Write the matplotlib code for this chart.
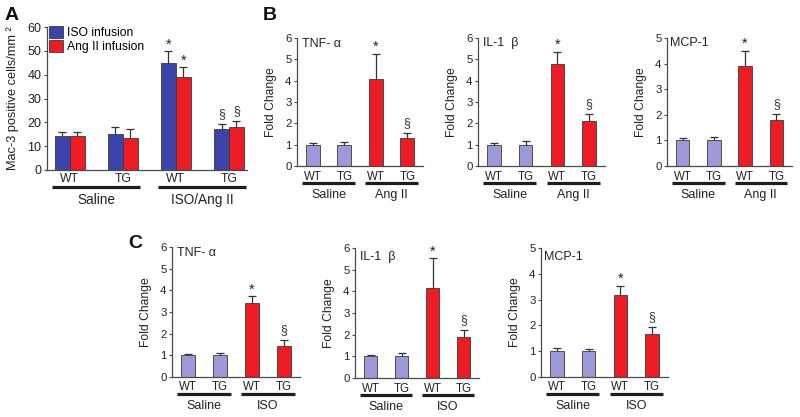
import matplotlib
matplotlib.use('Agg')
import matplotlib.pyplot as plt
import matplotlib.transforms as mtransforms
from matplotlib.patches import Patch
import numpy as np

plt.rcParams['font.family'] = ['Liberation Sans', 'DejaVu Sans']

# ---------------- data ----------------
genotypes = ['WT', 'TG', 'WT', 'TG']

# Panel A
a_groups = ['Saline', 'ISO/Ang II']
a_legend = ['ISO infusion', 'Ang II infusion']
a_iso = [14.3, 15.1, 45.0, 17.1]
a_iso_err = [1.7, 3.1, 4.8, 2.1]
a_ang = [14.3, 13.3, 38.9, 18.2]
a_ang_err = [1.8, 3.7, 4.2, 2.2]
a_iso_marks = ['', '', '*', '§']
a_ang_marks = ['', '', '*', '§']
a_yticks = [0, 10, 20, 30, 40, 50, 60]

# Panel B (Ang II)
b_groups = ['Saline', 'Ang II']
b_tnf = [1.0, 1.0, 4.1, 1.3]
b_tnf_err = [0.07, 0.12, 1.15, 0.25]
b_il = [1.0, 1.0, 4.8, 2.12]
b_il_err = [0.07, 0.15, 0.55, 0.3]
b_mcp = [1.0, 1.0, 3.9, 1.8]
b_mcp_err = [0.1, 0.15, 0.6, 0.22]

# Panel C (ISO)
c_groups = ['Saline', 'ISO']
c_tnf = [1.0, 1.0, 3.4, 1.41]
c_tnf_err = [0.08, 0.12, 0.33, 0.3]
c_il = [1.0, 1.0, 4.14, 1.87]
c_il_err = [0.08, 0.16, 1.39, 0.34]
c_mcp = [1.0, 1.0, 3.19, 1.67]
c_mcp_err = [0.12, 0.1, 0.35, 0.28]

bc_marks = ['', '', '*', '§']
titles = ['TNF- α', 'IL-1  β', 'MCP-1']

BLUE = '#3a44aa'
RED = '#ec1c24'
LAV = '#9d98d8'
EDGE = '#3a3a3a'
SPINE = '#4a4a4a'

W, H = 800, 417
fig = plt.figure(figsize=(8, 4.17), dpi=100)


def add_ax(left, right, top, bottom):
    ax = fig.add_axes([left / W, 1 - bottom / H, (right - left) / W, (bottom - top) / H])
    return ax, (right - left), (bottom - top)


def style(ax, tick_fs):
    for s in ['top', 'right']:
        ax.spines[s].set_visible(False)
    for s in ['left', 'bottom']:
        ax.spines[s].set_color(SPINE)
        ax.spines[s].set_linewidth(0.9)
    ax.tick_params(axis='y', length=2.5, width=0.8, pad=1.5, labelsize=tick_fs, colors='#222222')
    ax.tick_params(axis='y', color=SPINE)
    ax.set_xticks([])


def under_labels(ax, hpx, xs, labels, groups, wt_px, line_px, grp_px, fs_small, fs_grp, half=0.34):
    tr = mtransforms.blended_transform_factory(ax.transData, ax.transAxes)
    for x, lab in zip(xs, labels):
        ax.text(x, -wt_px / hpx, lab, transform=tr, ha='center', va='center',
                fontsize=fs_small, color='#222222', clip_on=False)
    for gi, g in enumerate(groups):
        x0 = xs[2 * gi] - half
        x1 = xs[2 * gi + 1] + half
        ax.plot([x0, x1], [-line_px / hpx] * 2, transform=tr, color='#1e1e1e',
                lw=2.3, solid_capstyle='butt', clip_on=False)
        ax.text((xs[2 * gi] + xs[2 * gi + 1]) / 2, -grp_px / hpx, g, transform=tr,
                ha='center', va='center', fontsize=fs_grp, color='#222222', clip_on=False)


def marks_on(ax, xs, tops, marks):
    for x, t, m in zip(xs, tops, marks):
        if not m:
            continue
        if m == '*':
            ax.annotate(m, (x, t), xytext=(0, 2.0), textcoords='offset points',
                        ha='center', va='baseline', fontsize=10.5, color='#222222')
        else:
            ax.annotate(m, (x, t), xytext=(0, 5.0), textcoords='offset points',
                        ha='center', va='baseline', fontsize=9, color='#333333')


# ---------------- Panel A ----------------
axA, wA, hA = add_ax(47, 247, 27, 170)
style(axA, 9)
xA = np.arange(len(genotypes))
bw = 0.28
axA.errorbar(xA - bw / 2, a_iso, yerr=a_iso_err, fmt='none', ecolor='#333333',
             elinewidth=0.9, capsize=2.8, capthick=0.9, zorder=1)
axA.errorbar(xA + bw / 2, a_ang, yerr=a_ang_err, fmt='none', ecolor='#333333',
             elinewidth=0.9, capsize=2.8, capthick=0.9, zorder=1)
axA.bar(xA - bw / 2, a_iso, width=bw, color=BLUE, edgecolor=EDGE, linewidth=0.6, zorder=2)
axA.bar(xA + bw / 2, a_ang, width=bw, color=RED, edgecolor=EDGE, linewidth=0.6, zorder=2)
axA.set_xlim(-0.43, 3.34)
axA.set_ylim(0, 60)
axA.set_yticks(a_yticks)
marks_on(axA, xA - bw / 2, np.array(a_iso) + np.array(a_iso_err), a_iso_marks)
marks_on(axA, xA + bw / 2, np.array(a_ang) + np.array(a_ang_err), a_ang_marks)
axA.set_ylabel('Mac-3 positive cells/mm ²', fontsize=9.2, va='center', color='#222222')
axA.yaxis.set_label_coords(-34 / wA, 0.5)
under_labels(axA, hA, xA, genotypes, a_groups, 9, 17, 30, 8.8, 9.8, half=0.33)
handles = [Patch(facecolor=BLUE, edgecolor=EDGE, linewidth=0.6),
           Patch(facecolor=RED, edgecolor=EDGE, linewidth=0.6)]
axA.legend(handles, a_legend, loc='upper left', bbox_to_anchor=(2 / wA, 1.01),
           frameon=False, fontsize=8.7, handlelength=1.15, handleheight=1.15,
           handletextpad=0.3, labelspacing=0.12, borderpad=0, borderaxespad=0)

# ---------------- Panels B & C ----------------
panels = [
    ((297, 423, 38, 166), 6, b_tnf, b_tnf_err, b_groups, titles[0], (302, 44)),
    ((478, 605, 38, 166), 6, b_il, b_il_err, b_groups, titles[1], (483, 43)),
    ((667, 792, 38, 166), 5, b_mcp, b_mcp_err, b_groups, titles[2], (670, 43)),
    ((172, 300, 247, 377), 6, c_tnf, c_tnf_err, c_groups, titles[0], (177, 253)),
    ((355, 479, 248, 378), 6, c_il, c_il_err, c_groups, titles[1], (360, 257)),
    ((541, 668, 248, 377), 5, c_mcp, c_mcp_err, c_groups, titles[2], (544, 257)),
]
bar_cols = [LAV, LAV, RED, RED]
for box, ymax, vals, errs, groups, title, tpos in panels:
    ax, wpx, hpx = add_ax(*box)
    style(ax, 8.2)
    xs = np.arange(len(genotypes))
    ax.errorbar(xs, vals, yerr=errs, fmt='none', ecolor='#333333',
                elinewidth=0.9, capsize=2.8, capthick=0.9, zorder=1)
    ax.bar(xs, vals, width=0.43, color=bar_cols, edgecolor=EDGE, linewidth=0.6, zorder=2)
    ax.set_xlim(-0.5, 3.5)
    ax.set_ylim(0, ymax)
    ax.set_yticks(range(0, ymax + 1))
    marks_on(ax, xs, np.array(vals) + np.array(errs), bc_marks)
    ax.set_ylabel('Fold Change', fontsize=8.7, va='center', color='#222222')
    ax.yaxis.set_label_coords(-26 / wpx, 0.5)
    under_labels(ax, hpx, xs, genotypes, groups, 10.5, 17, 29, 8.3, 9.0, half=0.34)
    fig.text(tpos[0] / W, 1 - tpos[1] / H, title, fontsize=9, ha='left', va='center',
             color='#222222')

# panel letters
for letter, (px, py) in zip(['A', 'B', 'C'], [(12, 15), (270, 15), (135, 243)]):
    fig.text(px / W, 1 - py / H, letter, fontsize=14, fontweight='bold',
             ha='center', va='center', color='#111111')

fig.savefig('out.png', dpi=100)
